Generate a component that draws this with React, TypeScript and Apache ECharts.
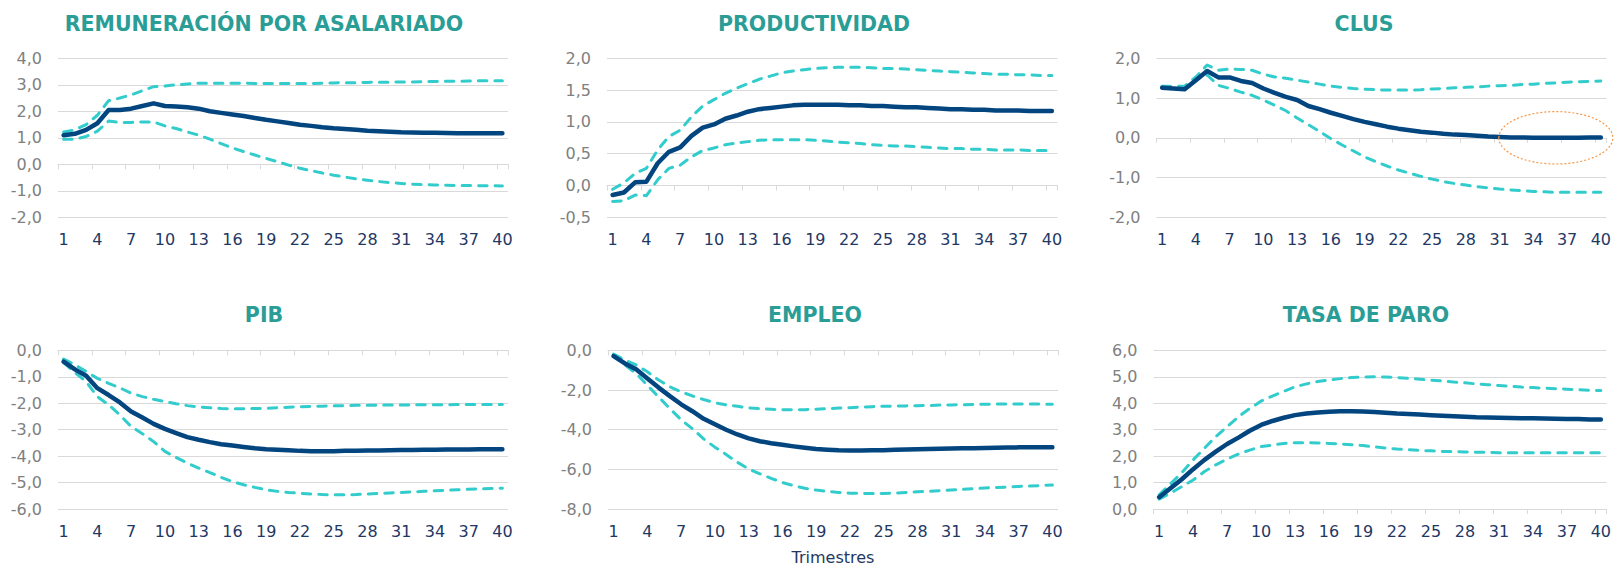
import { useEffect, useRef } from "react";
import * as echarts from "echarts";

// Quarters after the shock
const quarters = [
  "1", "2", "3", "4", "5", "6", "7", "8", "9", "10",
  "11", "12", "13", "14", "15", "16", "17", "18", "19", "20",
  "21", "22", "23", "24", "25", "26", "27", "28", "29", "30",
  "31", "32", "33", "34", "35", "36", "37", "38", "39", "40",
];

const panelTitles = [
  "REMUNERACIÓN POR ASALARIADO",
  "PRODUCTIVIDAD",
  "CLUS",
  "PIB",
  "EMPLEO",
  "TASA DE PARO",
];

// Y-axis scales: [min, max, step]
const yScales = [
  [-2, 4, 1],
  [-0.5, 2, 0.5],
  [-2, 2, 1],
  [-6, 0, 1],
  [-8, 0, 2],
  [0, 6, 1],
];

// Remuneración por asalariado
const remCentral = [
  1.10, 1.15, 1.30, 1.55, 2.05, 2.05, 2.10, 2.20, 2.30, 2.20,
  2.18, 2.15, 2.10, 2.00, 1.94, 1.88, 1.82, 1.75, 1.68, 1.62,
  1.56, 1.49, 1.45, 1.40, 1.36, 1.33, 1.30, 1.27, 1.25, 1.23,
  1.21, 1.20, 1.19, 1.19, 1.18, 1.17, 1.17, 1.17, 1.17, 1.17,
];
const remUpper = [
  1.22, 1.30, 1.50, 1.85, 2.40, 2.50, 2.62, 2.78, 2.93, 2.95,
  3.00, 3.03, 3.06, 3.06, 3.06, 3.06, 3.06, 3.05, 3.05, 3.05,
  3.05, 3.05, 3.05, 3.06, 3.07, 3.08, 3.08, 3.09, 3.10, 3.10,
  3.11, 3.11, 3.12, 3.12, 3.13, 3.13, 3.14, 3.15, 3.15, 3.15,
];
const remLower = [
  0.95, 0.95, 1.05, 1.25, 1.63, 1.58, 1.58, 1.60, 1.60, 1.45,
  1.35, 1.22, 1.10, 0.95, 0.78, 0.62, 0.48, 0.35, 0.22, 0.10,
  -0.03, -0.15, -0.24, -0.33, -0.41, -0.48, -0.55, -0.60, -0.65, -0.69,
  -0.72, -0.75, -0.77, -0.78, -0.79, -0.80, -0.80, -0.81, -0.81, -0.82,
];

// Productividad
const prodCentral = [
  -0.15, -0.11, 0.05, 0.06, 0.35, 0.53, 0.60, 0.78, 0.91, 0.96,
  1.05, 1.10, 1.16, 1.20, 1.22, 1.24, 1.26, 1.27, 1.27, 1.27,
  1.27, 1.26, 1.26, 1.25, 1.25, 1.24, 1.23, 1.23, 1.22, 1.21,
  1.20, 1.20, 1.19, 1.19, 1.18, 1.18, 1.18, 1.17, 1.17, 1.17,
];
const prodUpper = [
  -0.06, 0.04, 0.19, 0.27, 0.56, 0.77, 0.87, 1.08, 1.25, 1.35,
  1.45, 1.53, 1.60, 1.67, 1.72, 1.77, 1.80, 1.82, 1.84, 1.85,
  1.86, 1.86, 1.86, 1.85, 1.84, 1.84, 1.83, 1.82, 1.81, 1.80,
  1.79, 1.78, 1.77, 1.76, 1.75, 1.75, 1.74, 1.74, 1.73, 1.73,
];
const prodLower = [
  -0.25, -0.24, -0.15, -0.16, 0.09, 0.27, 0.32, 0.45, 0.55, 0.59,
  0.64, 0.67, 0.69, 0.71, 0.72, 0.72, 0.72, 0.72, 0.71, 0.70,
  0.68, 0.67, 0.66, 0.64, 0.63, 0.62, 0.62, 0.61, 0.60, 0.59,
  0.58, 0.58, 0.57, 0.57, 0.56, 0.56, 0.56, 0.55, 0.55, 0.55,
];

// CLUS
const clusCentral = [
  1.26, 1.24, 1.22, 1.45, 1.68, 1.52, 1.52, 1.43, 1.38, 1.24,
  1.13, 1.03, 0.95, 0.80, 0.72, 0.63, 0.55, 0.47, 0.40, 0.34,
  0.28, 0.23, 0.19, 0.15, 0.13, 0.10, 0.08, 0.07, 0.05, 0.03,
  0.02, 0.01, 0.01, 0.00, 0.00, 0.00, 0.00, 0.00, 0.01, 0.01,
];
const clusUpper = [
  1.30, 1.30, 1.30, 1.53, 1.83, 1.70, 1.73, 1.72, 1.70, 1.60,
  1.53, 1.50, 1.45, 1.40, 1.35, 1.30, 1.27, 1.24, 1.22, 1.21,
  1.20, 1.20, 1.20, 1.21, 1.23, 1.24, 1.26, 1.27, 1.28, 1.30,
  1.31, 1.32, 1.34, 1.35, 1.37, 1.38, 1.40, 1.41, 1.42, 1.43,
];
const clusLower = [
  1.27, 1.22, 1.22, 1.47, 1.58, 1.32, 1.24, 1.15, 1.07, 0.95,
  0.82, 0.68, 0.50, 0.33, 0.16, -0.02, -0.18, -0.33, -0.48, -0.60,
  -0.71, -0.81, -0.89, -0.97, -1.04, -1.10, -1.15, -1.19, -1.23, -1.26,
  -1.29, -1.31, -1.33, -1.35, -1.36, -1.37, -1.37, -1.37, -1.37, -1.37,
];

// PIB
const pibCentral = [
  -0.43, -0.72, -0.96, -1.43, -1.69, -1.97, -2.31, -2.54, -2.78, -2.97,
  -3.13, -3.28, -3.38, -3.47, -3.55, -3.60, -3.65, -3.70, -3.74, -3.76,
  -3.78, -3.80, -3.81, -3.81, -3.81, -3.80, -3.80, -3.79, -3.79, -3.78,
  -3.77, -3.77, -3.76, -3.76, -3.75, -3.75, -3.75, -3.74, -3.74, -3.74,
];
const pibUpper = [
  -0.33, -0.55, -0.80, -1.06, -1.25, -1.42, -1.62, -1.75, -1.85, -1.94,
  -2.02, -2.09, -2.14, -2.17, -2.20, -2.21, -2.21, -2.20, -2.19, -2.17,
  -2.15, -2.13, -2.12, -2.11, -2.10, -2.09, -2.08, -2.08, -2.07, -2.07,
  -2.07, -2.06, -2.06, -2.06, -2.06, -2.05, -2.05, -2.05, -2.05, -2.05,
];
const pibLower = [
  -0.47, -0.84, -1.18, -1.75, -2.06, -2.44, -2.88, -3.15, -3.45, -3.82,
  -4.05, -4.26, -4.45, -4.62, -4.80, -4.96, -5.08, -5.18, -5.27, -5.33,
  -5.37, -5.40, -5.43, -5.45, -5.46, -5.46, -5.45, -5.43, -5.41, -5.39,
  -5.37, -5.35, -5.33, -5.31, -5.29, -5.27, -5.25, -5.24, -5.22, -5.21,
];

// Empleo
const empCentral = [
  -0.29, -0.66, -0.96, -1.42, -1.88, -2.31, -2.72, -3.07, -3.45, -3.73,
  -4.00, -4.24, -4.44, -4.58, -4.68, -4.76, -4.84, -4.91, -4.97, -5.01,
  -5.04, -5.05, -5.05, -5.04, -5.03, -5.01, -5.00, -4.98, -4.97, -4.96,
  -4.95, -4.94, -4.93, -4.92, -4.91, -4.90, -4.89, -4.88, -4.88, -4.88,
];
const empUpper = [
  -0.19, -0.49, -0.74, -1.08, -1.50, -1.84, -2.09, -2.30, -2.48, -2.64,
  -2.75, -2.82, -2.90, -2.94, -2.97, -2.99, -3.00, -2.99, -2.97, -2.94,
  -2.91, -2.89, -2.86, -2.84, -2.82, -2.81, -2.80, -2.79, -2.78, -2.76,
  -2.75, -2.74, -2.73, -2.72, -2.71, -2.71, -2.70, -2.71, -2.71, -2.72,
];
const empLower = [
  -0.24, -0.74, -1.17, -1.76, -2.35, -2.94, -3.50, -3.95, -4.46, -4.88,
  -5.25, -5.64, -5.98, -6.22, -6.45, -6.66, -6.82, -6.95, -7.04, -7.11,
  -7.16, -7.20, -7.21, -7.22, -7.21, -7.19, -7.16, -7.13, -7.10, -7.07,
  -7.04, -7.01, -6.97, -6.94, -6.91, -6.89, -6.86, -6.84, -6.81, -6.79,
];

// Tasa de paro
const paroCentral = [
  0.45, 0.79, 1.13, 1.51, 1.86, 2.17, 2.46, 2.70, 2.96, 3.18,
  3.33, 3.45, 3.55, 3.61, 3.65, 3.68, 3.70, 3.70, 3.69, 3.67,
  3.64, 3.61, 3.59, 3.57, 3.55, 3.53, 3.51, 3.49, 3.47, 3.46,
  3.45, 3.44, 3.43, 3.43, 3.42, 3.41, 3.40, 3.40, 3.39, 3.39,
];
const paroUpper = [
  0.54, 0.95, 1.38, 1.86, 2.30, 2.74, 3.11, 3.49, 3.80, 4.08,
  4.27, 4.45, 4.62, 4.73, 4.82, 4.88, 4.93, 4.97, 4.99, 5.00,
  4.99, 4.97, 4.94, 4.91, 4.87, 4.84, 4.80, 4.77, 4.73, 4.70,
  4.67, 4.64, 4.61, 4.59, 4.57, 4.55, 4.53, 4.51, 4.49, 4.48,
];
const paroLower = [
  0.38, 0.60, 0.85, 1.10, 1.42, 1.67, 1.89, 2.08, 2.23, 2.36,
  2.42, 2.48, 2.51, 2.51, 2.50, 2.48, 2.46, 2.43, 2.40, 2.35,
  2.31, 2.27, 2.24, 2.22, 2.20, 2.18, 2.17, 2.16, 2.15, 2.14,
  2.13, 2.13, 2.13, 2.13, 2.13, 2.13, 2.13, 2.13, 2.13, 2.13,
];

const centralSeries = [remCentral, prodCentral, clusCentral, pibCentral, empCentral, paroCentral];
const upperSeries = [remUpper, prodUpper, clusUpper, pibUpper, empUpper, paroUpper];
const lowerSeries = [remLower, prodLower, clusLower, pibLower, empLower, paroLower];

// Plot-area placement of the six panels
const gridBoxes = [
  { left: 58, top: 58.3, width: 450, height: 159 },
  { left: 607, top: 58.3, width: 450.5, height: 159 },
  { left: 1156.5, top: 58.3, width: 450.5, height: 159 },
  { left: 58, top: 350.3, width: 450, height: 158.8 },
  { left: 608, top: 350.3, width: 450, height: 158.8 },
  { left: 1153.5, top: 350.3, width: 456, height: 158.8 },
];
const titleCenters = [
  [264, 23.5], [814, 23.5], [1364, 23.5],
  [264, 314.5], [815, 314.5], [1366, 314.5],
];

const FONT = "'DejaVu Sans', 'Liberation Sans', sans-serif";
const NAVY_LINE = "#03457F";
const CYAN = "#33CCCC";
const TEAL = "#2A9D96";
const LABEL_GREY = "#808080";
const LABEL_NAVY = "#1F3864";
const GRID_GREY = "#D9D9D9";

const fmt = (v: number) => v.toFixed(1).replace(".", ",");

export default function App() {
  const ref = useRef<HTMLDivElement>(null);

  useEffect(() => {
    if (!ref.current) return;
    const chart = echarts.init(ref.current, undefined, { renderer: "svg" });

    const grid = gridBoxes.map((g) => ({ ...g, containLabel: false }));
    const xAxis: any[] = [];
    const yAxis: any[] = [];
    const series: any[] = [];

    gridBoxes.forEach((_, i) => {
      // bottom axis carrying the quarter labels
      xAxis.push({
        type: "category",
        gridIndex: i,
        data: quarters,
        boundaryGap: true,
        position: "bottom",
        axisLine: { show: false, onZero: false },
        axisTick: { show: false },
        splitLine: { show: false },
        axisLabel: {
          interval: 2,
          color: LABEL_NAVY,
          fontFamily: FONT,
          fontSize: 16,
          margin: 14.5,
        },
      });
      // axis line with tick marks sitting on the zero level
      xAxis.push({
        type: "category",
        gridIndex: i,
        data: quarters,
        boundaryGap: true,
        position: "bottom",
        axisLine: { show: true, onZero: true, lineStyle: { color: GRID_GREY, width: 1 } },
        axisTick: { show: true, interval: 2, length: 5, lineStyle: { color: GRID_GREY, width: 1 } },
        axisLabel: { show: false },
        splitLine: { show: false },
      });
      const [min, max, step] = yScales[i];
      yAxis.push({
        type: "value",
        gridIndex: i,
        min,
        max,
        interval: step,
        axisLine: { show: false },
        axisTick: { show: false },
        splitLine: { show: true, lineStyle: { color: GRID_GREY, width: 1 } },
        axisLabel: {
          formatter: fmt,
          color: LABEL_GREY,
          fontFamily: FONT,
          fontSize: 16,
          margin: 16,
        },
      });

      const dashed = {
        color: CYAN,
        width: 3,
        type: [8.5, 8],
        cap: "round",
        join: "round",
      };
      series.push({
        type: "line",
        name: "Banda inferior",
        xAxisIndex: 2 * i,
        yAxisIndex: i,
        data: lowerSeries[i],
        showSymbol: false,
        symbol: "none",
        lineStyle: dashed,
        z: 2,
      });
      series.push({
        type: "line",
        name: "Banda superior",
        xAxisIndex: 2 * i,
        yAxisIndex: i,
        data: upperSeries[i],
        showSymbol: false,
        symbol: "none",
        lineStyle: dashed,
        z: 2,
      });
      series.push({
        type: "line",
        name: "Respuesta central",
        xAxisIndex: 2 * i,
        yAxisIndex: i,
        data: centralSeries[i],
        showSymbol: false,
        symbol: "none",
        lineStyle: { color: NAVY_LINE, width: 4.5, cap: "round", join: "round" },
        z: 3,
      });
    });

    const texts: any[] = panelTitles.map((t, i) => ({
      type: "text",
      x: titleCenters[i][0],
      y: titleCenters[i][1],
      style: {
        text: t,
        fill: TEAL,
        fontFamily: FONT,
        fontSize: 20.5,
        fontWeight: "bold",
        align: "center",
        verticalAlign: "middle",
        textAlign: "center",
        textVerticalAlign: "middle",
      },
    }));
    texts.push({
      type: "text",
      x: 833,
      y: 557.5,
      style: {
        text: "Trimestres",
        fill: LABEL_NAVY,
        fontFamily: FONT,
        fontSize: 16,
        align: "center",
        verticalAlign: "middle",
        textAlign: "center",
        textVerticalAlign: "middle",
      },
    });

    chart.setOption({
      animation: false,
      grid,
      xAxis,
      yAxis,
      series,
      graphic: texts,
    });

    // dotted ring highlighting the CLUS response settling at zero
    const c = chart.convertToPixel({ xAxisIndex: 4, yAxisIndex: 2 }, ["36", 0]) as number[];
    chart.setOption({
      graphic: [
        ...texts,
        {
          type: "ellipse",
          shape: { cx: c[0], cy: c[1], rx: 57, ry: 26.2 },
          style: { fill: "none", stroke: "#F79646", lineWidth: 1.2, lineDash: [2, 2] },
          z: 10,
        },
      ],
    });

    return () => chart.dispose();
  }, []);

  return (
    <div
      ref={ref}
      style={{ position: "fixed", left: 0, top: 0, width: 1614, height: 566, background: "#fff" }}
    />
  );
}
